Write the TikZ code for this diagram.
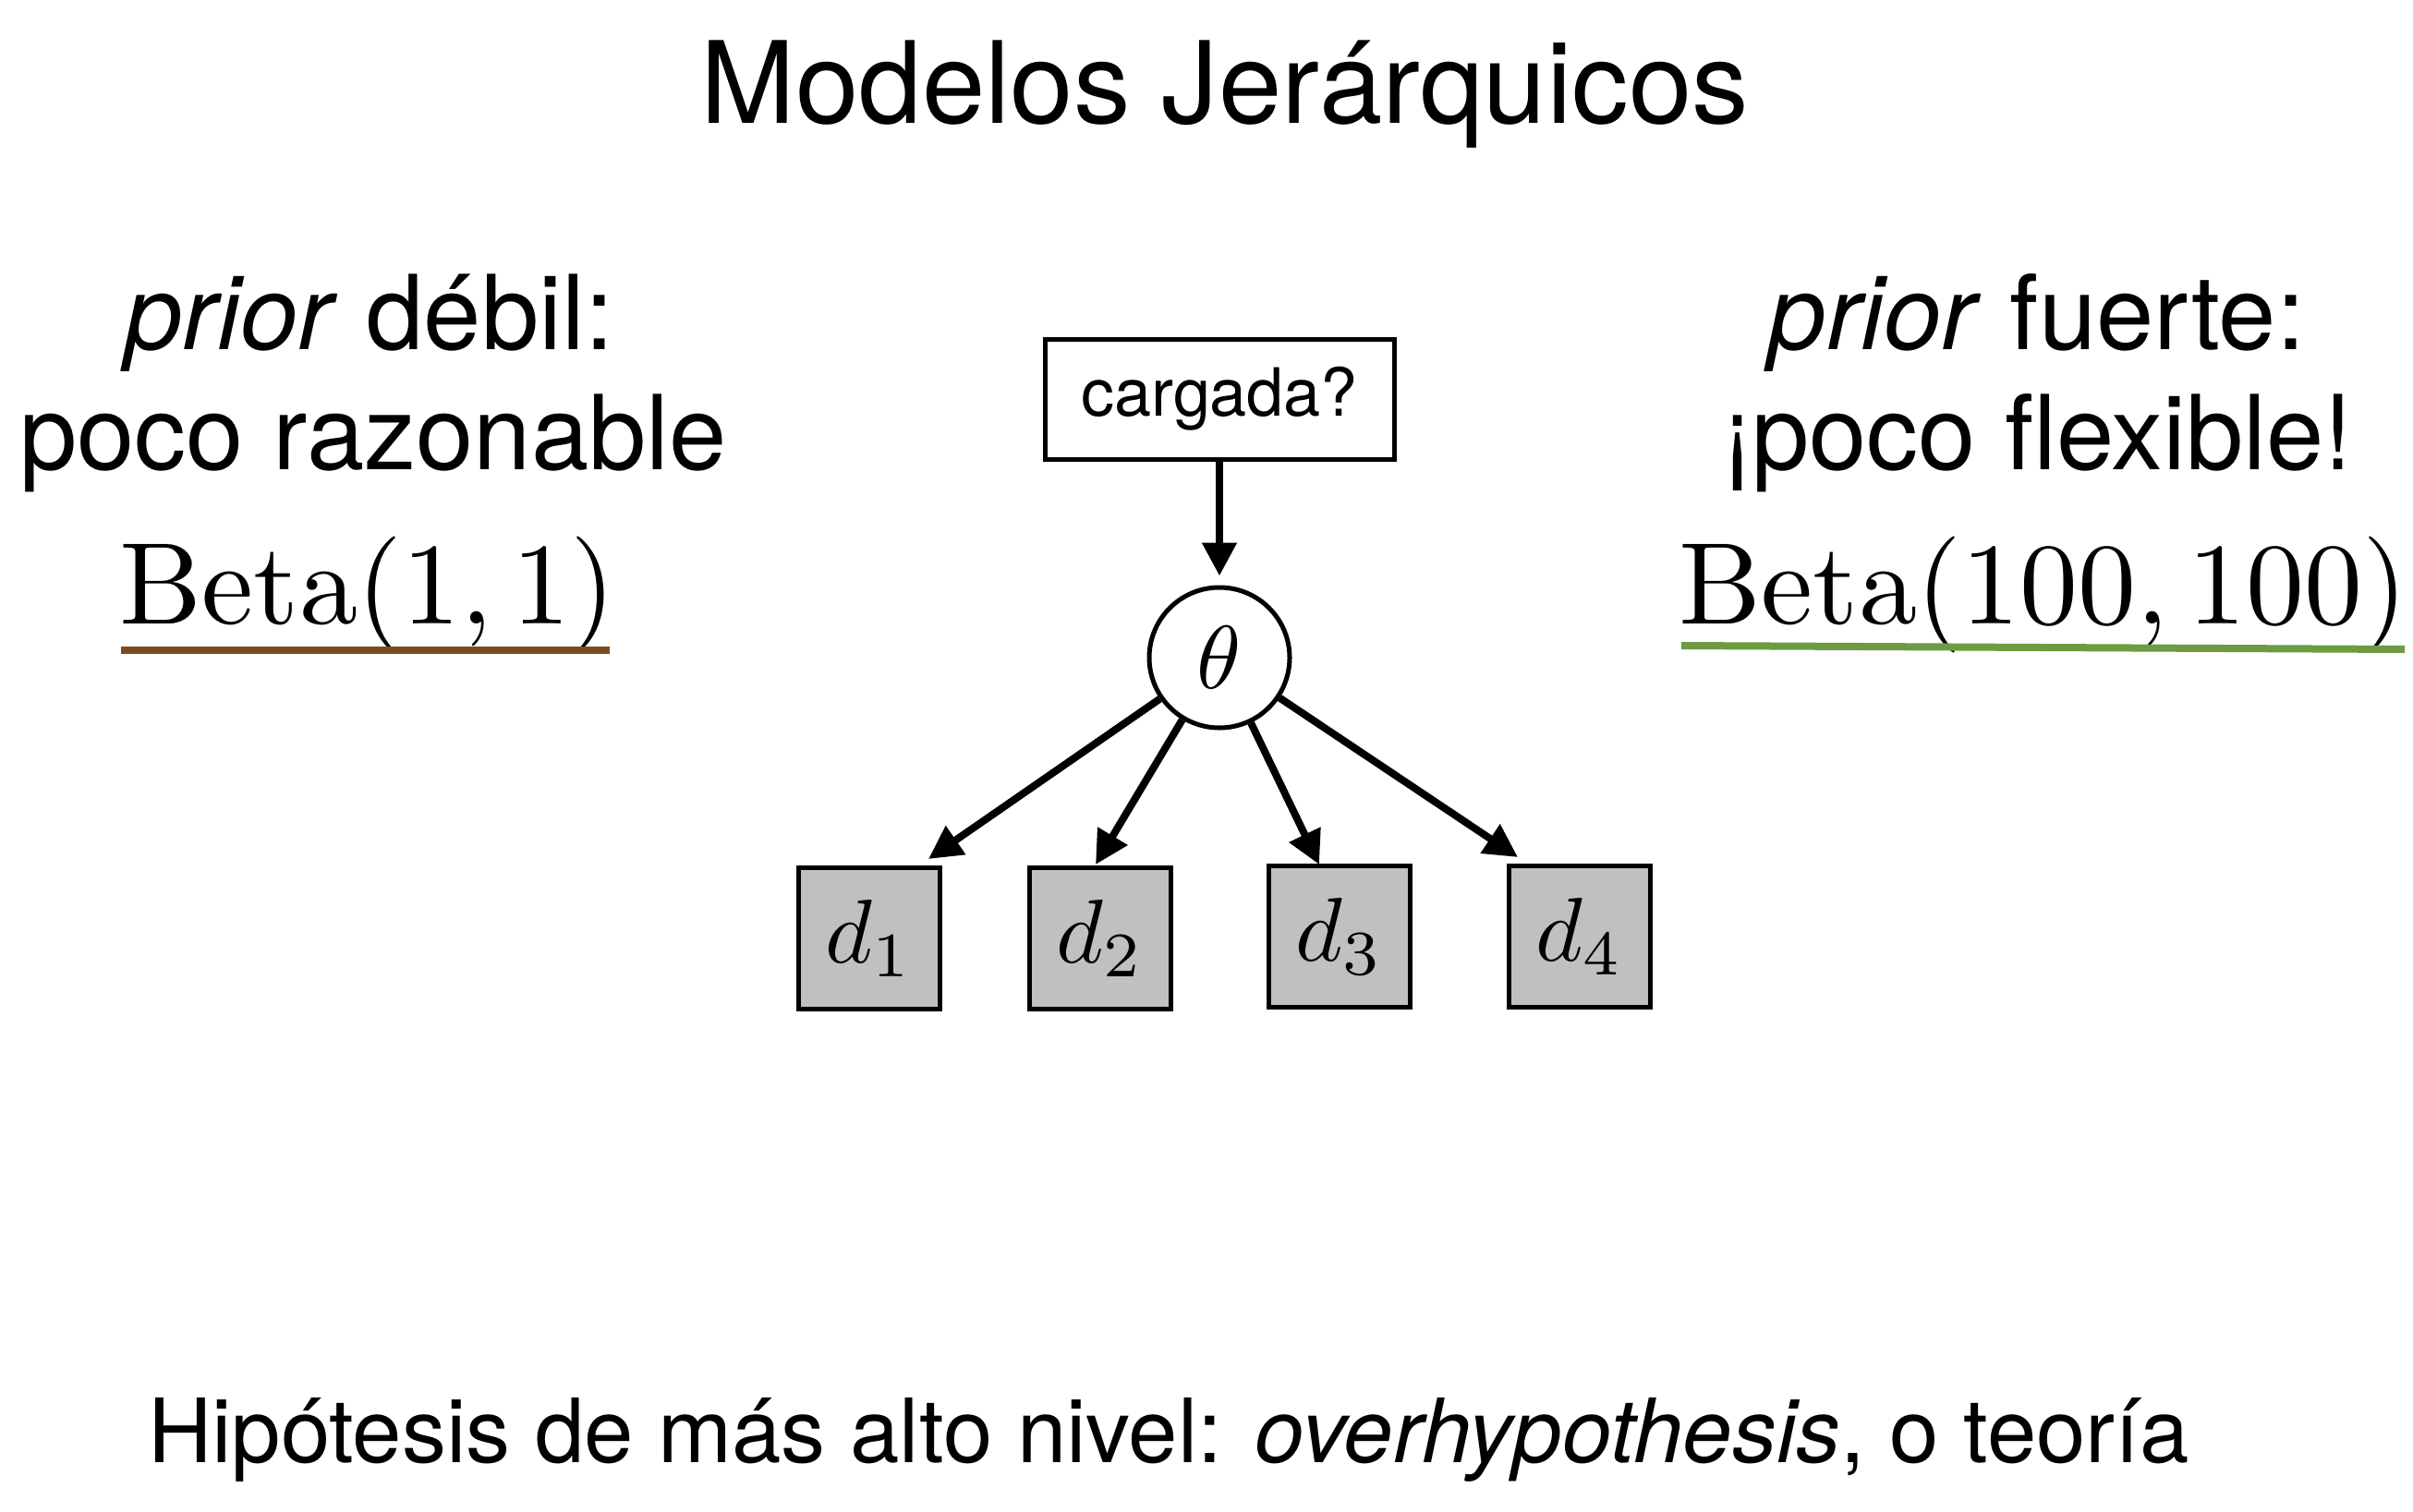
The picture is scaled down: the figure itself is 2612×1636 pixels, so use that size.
\documentclass[tikz,border=0pt]{standalone}
\usepackage{graphicx}
\usepackage[no-math]{fontspec}
\setmainfont{TeX Gyre Heros}
\usetikzlibrary{arrows.meta}
\definecolor{ubrown}{RGB}{122,78,28}
\definecolor{ugreen}{RGB}{110,155,65}
\definecolor{dgray}{RGB}{192,192,192}
\newcommand{\fsz}[1]{\fontsize{#1}{#1}\selectfont}
\newcommand{\scmath}[2]{\scalebox{#1}{\fontsize{10}{12}\selectfont$#2$}}
\begin{document}
\begin{tikzpicture}[x=1pt,y=-1pt,
  txt/.style={inner sep=0pt,anchor=base},
  hdr/.style={txt,font=\fsz{123}},
  side/.style={txt,font=\fsz{112}},
  beta/.style={txt},
  foot/.style={txt,font=\fsz{96}},
  qbox/.style={draw,line width=5pt,minimum width=378pt,minimum height=130pt,inner sep=0pt,font=\fsz{72}},
  pnode/.style={draw,circle,line width=5pt,minimum size=152pt,inner sep=0pt},
  dbox/.style={draw,line width=5pt,fill=dgray,minimum width=153pt,minimum height=153pt,inner sep=0pt},
  edge/.style={line width=8pt,-{Triangle[length=36pt,width=36pt]}},
  uline/.style={line width=8pt}]
\useasboundingbox (0,0) rectangle (2612,1636);
\node[hdr] (title) at (1326,133) {Modelos Jerárquicos};
% left column
\node[side] (l1) at (400,378) {\textit{prior} débil:};
\node[side] (l2) at (404,508) {poco razonable};
\node[beta] (l3) at (398,675) {\scmath{12.6}{\mathrm{Beta}(1,1)}};
\coordinate (ub1) at (131,704);
\coordinate (ub2) at (660,704);
\draw[uline,ubrown] (ub1) -- (ub2);
% right column
\node[side] (r1) at (2205,378) {\textit{prior} fuerte:};
\node[side] (r2) at (2206,508) {¡poco flexible!};
\node[beta] (r3) at (2212,675) {\scmath{12.6}{\mathrm{Beta}(100,100)}};
\coordinate (ug1) at (1820,699);
\coordinate (ug2) at (2603,703);
\draw[uline,ugreen] (ug1) -- (ug2);
% diagram
\node[qbox] (q) at (1320,432) {cargada?};
\node[pnode] (theta) at (1320,712) {\scmath{9.7}{\theta}};
\node[dbox] (d1) at (941,1016) {\scmath{9.8}{d_1}};
\node[dbox] (d2) at (1191,1016) {\scmath{9.8}{d_2}};
\node[dbox] (d3) at (1450,1014) {\scmath{9.8}{d_3}};
\node[dbox] (d4) at (1710,1014) {\scmath{9.8}{d_4}};
\coordinate (t1) at (1005,930);
\coordinate (t2) at (1186,936);
\coordinate (t3) at (1428,936);
\coordinate (t4) at (1643,928);
\draw[edge,shorten >=10pt] (q.south) -- (theta.north);
\draw[edge] (theta) -- (t1);
\draw[edge] (theta) -- (t2);
\draw[edge] (theta) -- (t3);
\draw[edge] (theta) -- (t4);
% footer
\node[foot] (foot) at (1265,1583) {Hipótesis de más alto nivel: \textit{overhypothesis}, o teoría};
\end{tikzpicture}
\end{document}
